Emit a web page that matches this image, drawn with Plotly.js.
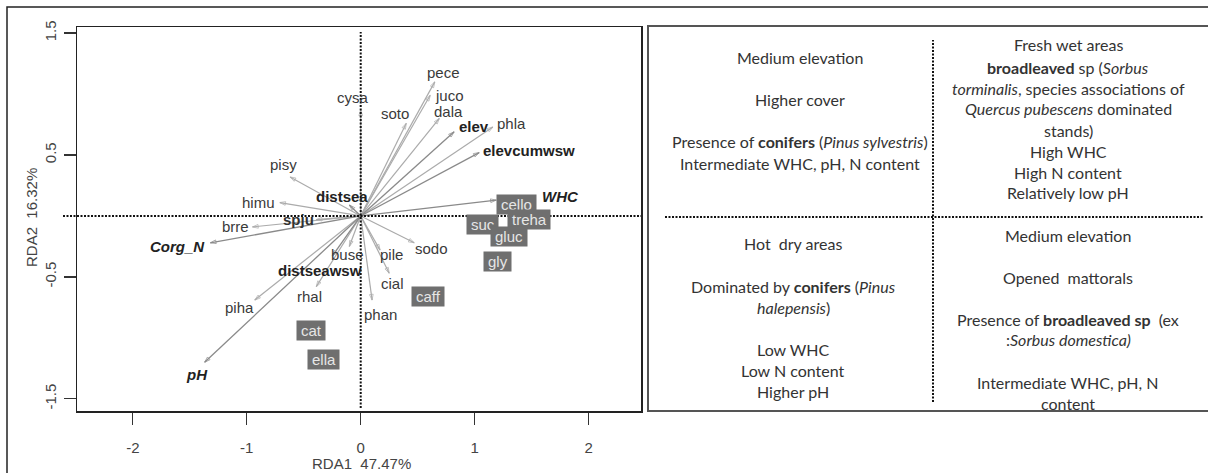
<!DOCTYPE html>
<html><head><meta charset="utf-8">
<script src="https://cdn.plot.ly/plotly-3.0.1.min.js"></script>
<style>html,body{margin:0;padding:0;background:#fff}</style>
</head><body><div id="chart" style="width:1208px;height:473px"></div>
<script>
// Species arrows (tip coordinates) and label coordinates
const spNames = ['pece','juco','dala','soto','cysa','phla','pisy','himu','brre','piha','rhal','buse','pile','sodo','cial','phan','spju'];
const spBold  = [false,false,false,false,false,false,false,false,false,false,false,false,false,false,false,false,true];
const spX     = [0.65, 0.61, 0.69, 0.40, 0.00, 1.16,-0.62,-0.71,-0.95,-0.93,-0.39,-0.10, 0.17, 0.47, 0.25, 0.10,-0.39];
const spY     = [1.10, 0.99, 0.80, 0.76, 0.87, 0.73, 0.32, 0.11,-0.09,-0.69,-0.58,-0.25,-0.28,-0.22,-0.47,-0.69,-0.03];
const spLabX  = [0.73, 0.78, 0.77, 0.30,-0.07, 1.32,-0.68,-0.90,-1.10,-1.06,-0.45,-0.12, 0.27, 0.62, 0.28, 0.17,-0.55];
const spLabY  = [1.18, 0.99, 0.86, 0.84, 0.97, 0.76, 0.42, 0.11,-0.09,-0.75,-0.66,-0.32,-0.32,-0.27,-0.55,-0.81,-0.03];

// Environmental variable arrows
const envNames = ['elev','elevcumwsw','WHC','distsea','distseawsw','Corg_N','pH'];
const envItalic = [false,false,true,false,false,true,true];
const envX    = [0.82, 1.04, 1.19,-0.10,-0.25,-1.32,-1.37];
const envY    = [0.69, 0.52, 0.13, 0.09,-0.33,-0.22,-1.20];
const envLabX = [0.99, 1.48, 1.75,-0.16,-0.36,-1.61,-1.44];
const envLabY = [0.73, 0.54, 0.16, 0.16,-0.45,-0.25,-1.30];

// Metabolites (boxed labels)
const metNames = ['cello','treha','suc','gluc','gly','caff','cat','ella'];
const metX     = [1.37, 1.48, 1.07, 1.30, 1.20, 0.59,-0.44,-0.33];
const metY     = [0.09,-0.03,-0.07,-0.17,-0.37,-0.66,-0.94,-1.18];

// Axis ticks
const xTicks = [-2,-1,0,1,2];
const xTickText = ['-2','-1','0','1','2'];
const yTicks = [-1.5,-0.5,0.5,1.5];
const yTickText = ['-1.5','-0.5','0.5','1.5'];
const xTitle = 'RDA1  47.47%';
const yTitle = 'RDA2  16.32%';

// Right panel quadrant texts
const qTopLeft = [
  ['Medium elevation', 57],
  ['Higher cover', 99],
  ['Presence of <b>conifers</b> (<i>Pinus sylvestris</i>)', 141],
  ['Intermediate WHC, pH, N content', 163]
];
const qTopRight = [
  ['Fresh wet areas', 45],
  ['<b>broadleaved</b> sp (<i>Sorbus</i>', 67],
  ['<i>torminalis</i>, species associations of', 88],
  ['<i>Quercus pubescens</i> dominated', 109],
  ['stands)', 130],
  ['High WHC', 151],
  ['High N content', 172],
  ['Relatively low pH', 193]
];
const qBottomLeft = [
  ['Hot  dry areas', 243],
  ['Dominated by <b>conifers</b> (<i>Pinus</i>', 286],
  ['<i>halepensis</i>)', 307],
  ['Low WHC', 349],
  ['Low N content', 370],
  ['Higher pH', 391]
];
const qBottomRight = [
  ['Medium elevation', 235],
  ['Opened  mattorals', 277],
  ['Presence of <b>broadleaved sp</b>  (ex', 319],
  [':<i>Sorbus domestica)</i>', 339],
  ['Intermediate WHC, pH, N', 382],
  ['content', 403]
];

const W = 1208, H = 473;
const px = v => v / W;
const py = v => 1 - v / H;

function segs(xs, ys) {
  const X = [], Y = [], S = [];
  xs.forEach((x, i) => { X.push(0, x, null); Y.push(0, ys[i], null); S.push(0, 6, 0); });
  return {X, Y, S};
}
const sp = segs(spX, spY);
const ev = segs(envX, envY);

const traces = [
  {type:'scatter', mode:'lines+markers', x: sp.X, y: sp.Y, connectgaps:false,
   line:{color:'#ababab', width:1.2},
   marker:{symbol:'arrow-open', size: sp.S, angleref:'previous', color:'#ababab', line:{color:'#ababab', width:1}},
   hoverinfo:'skip'},
  {type:'scatter', mode:'lines+markers', x: ev.X, y: ev.Y, connectgaps:false,
   line:{color:'#8a8a8a', width:1.3},
   marker:{symbol:'arrow-open', size: ev.S, angleref:'previous', color:'#8a8a8a', line:{color:'#8a8a8a', width:1}},
   hoverinfo:'skip'}
];

const FAM = 'Liberation Sans, Arial, sans-serif';
const ann = [];
spNames.forEach((n, i) => ann.push({x: spLabX[i], y: spLabY[i], xref:'x', yref:'y',
  text: spBold[i] ? '<b>' + n + '</b>' : n, showarrow:false,
  font:{family:FAM, size:15, color: spBold[i] ? '#333' : '#3a3a3a'}}));
envNames.forEach((n, i) => ann.push({x: envLabX[i], y: envLabY[i], xref:'x', yref:'y',
  text: envItalic[i] ? '<b><i>' + n + '</i></b>' : '<b>' + n + '</b>', showarrow:false,
  font:{family:FAM, size:15, color:'#222'}}));
metNames.forEach((n, i) => ann.push({x: metX[i], y: metY[i], xref:'x', yref:'y',
  text: '\u2009' + n + '\u2009', showarrow:false,
  bgcolor:'#6f6f6f', borderpad:1, font:{family:FAM, size:15, color:'#e6e6e6'}}));

// axis titles
ann.push({x: px(362), y: py(463), xref:'paper', yref:'paper', xanchor:'center', yanchor:'middle',
  text: xTitle, showarrow:false, font:{family:FAM, size:15, color:'#444'}});
ann.push({x: px(31), y: py(218), xref:'paper', yref:'paper', xanchor:'center', yanchor:'middle',
  text: yTitle, textangle:-90, showarrow:false, font:{family:FAM, size:15, color:'#444'}});

const panelFont = {family:'Lato, Carlito, sans-serif', size:16, color:'#333'};
function addQ(list, cx) {
  list.forEach(([t, y]) => ann.push({x: px(cx), y: py(y), xref:'paper', yref:'paper', text: t, showarrow:false,
    xanchor:'center', yanchor:'middle', font: panelFont}));
}
addQ(qTopLeft, 800);
addQ(qTopRight, 1068);
addQ(qBottomLeft, 793);
addQ(qBottomRight, 1068);

const dotLine = {color:'#111', width:2, dash:'2px,1.5px'};
const shapes = [
  // outer frame
  {type:'rect', xref:'paper', yref:'paper', x0: px(7), x1: 1.02, y0: -0.02, y1: py(7), line:{color:'#222', width:1.5}},
  // plot zero lines
  {type:'line', xref:'paper', yref:'y', x0: px(63), x1: px(641), y0: 0, y1: 0, line: dotLine},
  {type:'line', xref:'x', yref:'paper', x0: 0, x1: 0, y0: py(408), y1: py(32), line: dotLine},
  // right panel frame
  {type:'rect', xref:'paper', yref:'paper', x0: px(648), x1: 1.02, y0: py(411), y1: py(26), line:{color:'#555', width:2}},
  // right panel dotted cross
  {type:'line', xref:'paper', yref:'paper', x0: px(665), x1: px(1203), y0: py(217), y1: py(217), line: dotLine},
  {type:'line', xref:'paper', yref:'paper', x0: px(933), x1: px(933), y0: py(402), y1: py(40), line: dotLine}
];

const tickFont = {family:FAM, size:15, color:'#444'};
const layout = {
  width: W, height: H, margin:{l:0, r:0, t:0, b:0},
  paper_bgcolor:'#fff', plot_bgcolor:'#fff', showlegend:false,
  xaxis:{domain:[px(77), px(641)], range:[-2.49, 2.46], tickvals:xTicks, ticktext:xTickText,
    ticks:'outside', ticklen:12, tickwidth:1.3, tickcolor:'#333', ticklabelstandoff:10,
    showline:true, mirror:true, linecolor:'#222', linewidth:1.5, showgrid:false, zeroline:false, tickfont:tickFont},
  yaxis:{domain:[py(411), py(27)], range:[-1.60, 1.55], tickvals:yTicks, ticktext:yTickText, tickangle:-90,
    ticks:'outside', ticklen:12, tickwidth:1.3, tickcolor:'#333', ticklabelstandoff:2,
    showline:true, mirror:true, linecolor:'#222', linewidth:1.5, showgrid:false, zeroline:false, tickfont:tickFont},
  annotations: ann, shapes: shapes
};
Plotly.newPlot('chart', traces, layout, {staticPlot:true, displayModeBar:false});
</script></body></html>
